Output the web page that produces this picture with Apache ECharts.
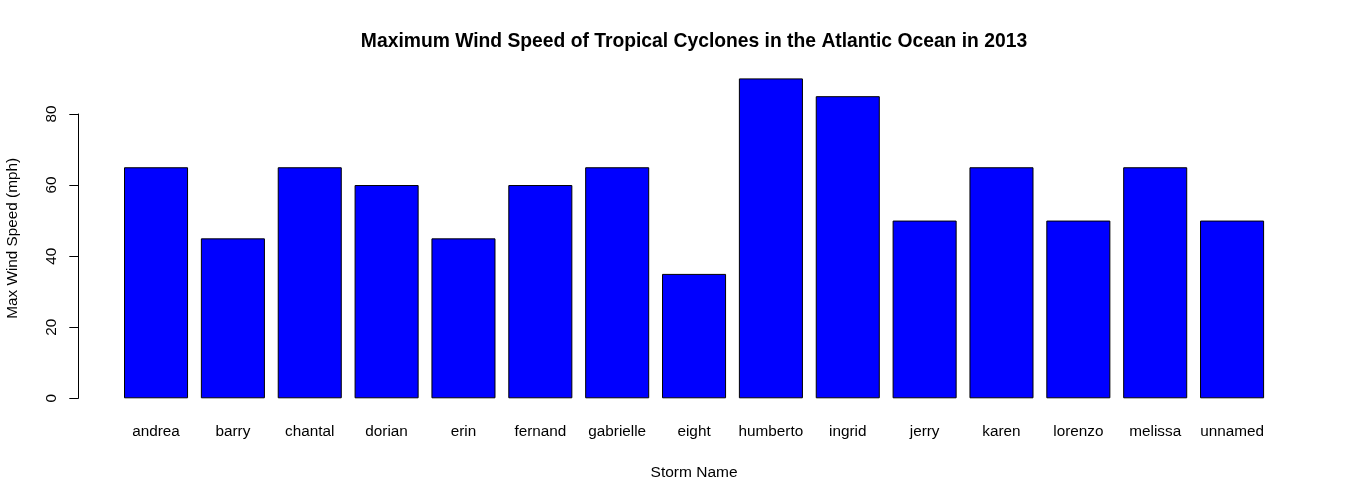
<!DOCTYPE html>
<html>
<head>
<meta charset="utf-8">
<script src="https://cdn.jsdelivr.net/npm/echarts@6/dist/echarts.min.js"></script>
<style>html,body{margin:0;padding:0;background:#fff;}#c{width:1350px;height:500px;}</style>
</head>
<body>
<div id="c"></div>
<script>
const categories = ['andrea','barry','chantal','dorian','erin','fernand','gabrielle','eight','humberto','ingrid','jerry','karen','lorenzo','melissa','unnamed'];
const windSpeed = [65,45,65,60,45,60,65,35,90,85,50,65,50,65,50];
const yTicks = [0,20,40,60,80];

const font = 'Liberation Sans, Arial, sans-serif';
const chart = echarts.init(document.getElementById('c'), null, {renderer:'canvas'});
chart.setOption({
  animation:false,
  backgroundColor:'#ffffff',
  title:{
    text:'Maximum Wind Speed of Tropical Cyclones in the Atlantic Ocean in 2013',
    left:694, top:32, textAlign:'center', padding:0,
    textStyle:{fontFamily:font, fontSize:19.3, fontWeight:'bold', color:'#000'}
  },
  grid:[
    {left:117.6, right:79.5, top:78.4, bottom:101.7, outerBoundsMode:'none', containLabel:false},
    {left:78.3, right:79.5, top:114, bottom:101.7, outerBoundsMode:'none', containLabel:false}
  ],
  xAxis:[
    {type:'category', gridIndex:0, data:categories,
     axisLine:{show:false}, axisTick:{show:false},
     axisLabel:{fontFamily:font, fontSize:15.3, color:'#000', margin:26, interval:0},
     name:'Storm Name', nameLocation:'middle', nameGap:66,
     nameTextStyle:{fontFamily:font, fontSize:15.5, color:'#000'}},
    {type:'category', gridIndex:1, show:false, data:categories}
  ],
  yAxis:[
    {type:'value', gridIndex:0, min:0, max:90,
     axisLine:{show:false}, axisTick:{show:false}, axisLabel:{show:false}, splitLine:{show:false},
     name:'Max Wind Speed (mph)', nameLocation:'middle', nameGap:97, nameRotate:90,
     nameTextStyle:{fontFamily:font, fontSize:15.3, color:'#000'}},
    {type:'value', gridIndex:1, min:yTicks[0], max:yTicks[yTicks.length-1], interval:20,
     axisLine:{show:true, lineStyle:{color:'#000', width:1}},
     axisTick:{show:true, length:9, lineStyle:{color:'#000', width:1}},
     axisLabel:{fontFamily:font, fontSize:15.3, color:'#000', rotate:90, margin:19},
     splitLine:{show:false}}
  ],
  series:[{
    type:'bar', xAxisIndex:0, yAxisIndex:0, data:windSpeed,
    barWidth:'83.33%',
    itemStyle:{color:'#0000FF', borderColor:'#000', borderWidth:1}
  }]
});
</script>
</body>
</html>
